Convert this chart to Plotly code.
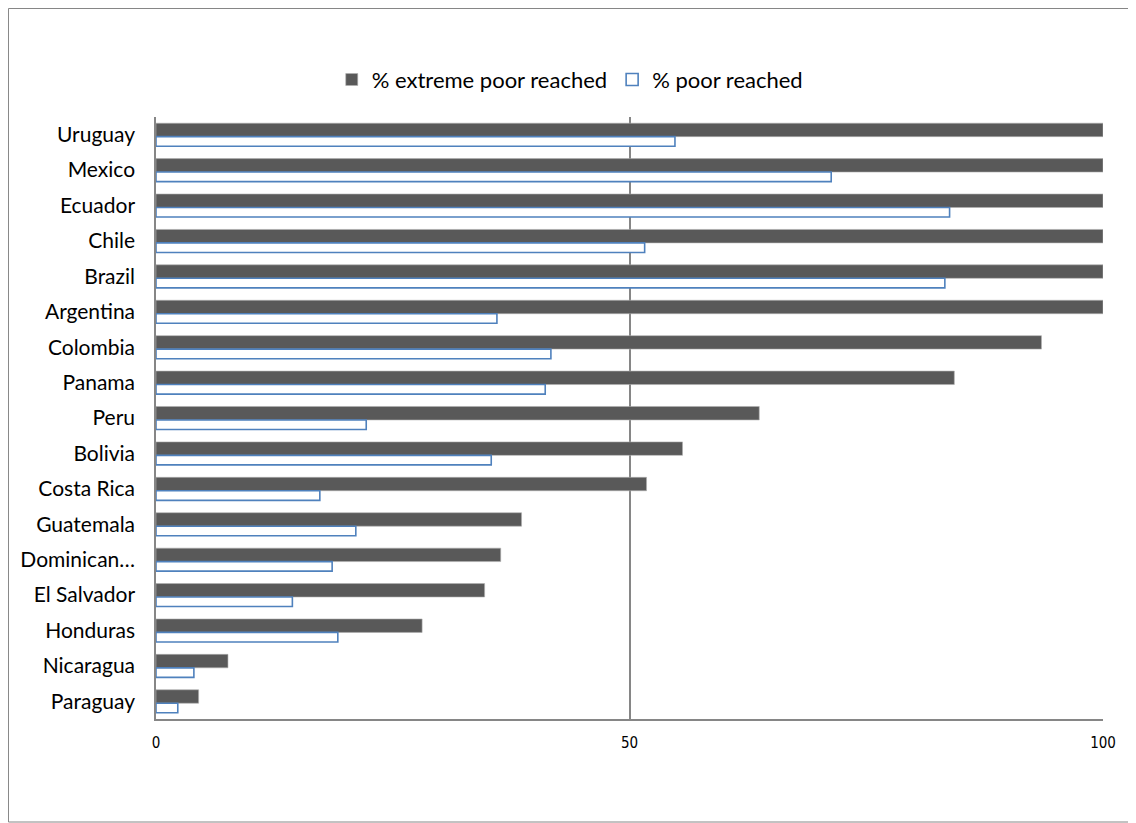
import plotly.graph_objects as go

countries = ["Uruguay", "Mexico", "Ecuador", "Chile", "Brazil", "Argentina", "Colombia",
             "Panama", "Peru", "Bolivia", "Costa Rica", "Guatemala", "Dominican…",
             "El Salvador", "Honduras", "Nicaragua", "Paraguay"]
extreme_poor = [100, 100, 100, 100, 100, 100, 93.5, 84.3, 63.7, 55.6, 51.8, 38.6, 36.4,
                34.7, 28.1, 7.6, 4.5]
poor = [54.8, 71.3, 83.8, 51.6, 83.3, 36.0, 41.7, 41.1, 22.2, 35.4, 17.3, 21.1, 18.6,
        14.4, 19.2, 4.0, 2.3]
x_ticks = [0, 50, 100]

W, H = 1128, 815
L, R, T, B = 148, 33, 109, 104
pw, ph = W - L - R, H - T - B

fig = go.Figure()
fig.add_trace(go.Bar(
    y=countries, x=extreme_poor, orientation="h", name="% extreme poor reached",
    marker=dict(color="#595959", line=dict(color="#b0b0b0", width=0.6)),
    width=0.38, offset=-0.325,
))
fig.add_trace(go.Bar(
    y=countries, x=poor, orientation="h", name="% poor reached",
    marker=dict(color="white", line=dict(color="#4F81BD", width=1.6)),
    width=0.27, offset=0.055,
))

fig.update_layout(
    width=W, height=H,
    barmode="overlay",
    paper_bgcolor="white", plot_bgcolor="white",
    margin=dict(l=L, r=R, t=T, b=B),
    font=dict(family="Lato, Open Sans, sans-serif", color="#000000"),
    showlegend=True,
    legend=dict(orientation="h", xref="container", yref="container",
                x=0.498, xanchor="center", y=0.912, yanchor="middle",
                font=dict(size=22, family="Lato, Open Sans, sans-serif"),
                itemwidth=30, traceorder="normal"),
    xaxis=dict(range=[0, 100], tickvals=x_ticks, ticktext=[str(v) for v in x_ticks],
               showgrid=True, gridcolor="#868686", gridwidth=1.5,
               showline=True, linecolor="#868686", linewidth=1.5,
               zeroline=False, ticks="outside", ticklen=9, tickcolor="rgba(0,0,0,0)",
               tickfont=dict(size=15, family="DejaVu Sans Condensed, Liberation Sans Narrow, sans-serif")),
    yaxis=dict(autorange="reversed", type="category", showgrid=False,
               showline=True, linecolor="#868686", linewidth=1.5,
               ticks="", ticklabelstandoff=15,
               tickfont=dict(size=21, family="Lato, Open Sans, sans-serif")),
    shapes=[dict(type="rect", xref="paper", yref="paper",
                 x0=-L / pw + 0.0005, x1=(W - 1 - L) / pw, y0=-(B - 1) / ph, y1=(ph + T - 0.5) / ph,
                 line=dict(color="#868686", width=1), fillcolor="rgba(0,0,0,0)", layer="below")],
)

fig.write_html("out.html")
